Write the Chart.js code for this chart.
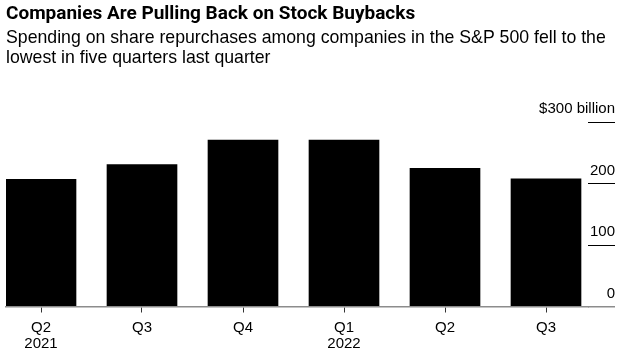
<!DOCTYPE html>
<html>
<head>
<meta charset="utf-8">
<script src="https://cdn.jsdelivr.net/npm/chart.js@4.4.1/dist/chart.umd.min.js"></script>
<style>
html,body{margin:0;padding:0;background:#fff;}
#wrap{width:625px;height:356px;position:relative;}
</style>
</head>
<body>
<div id="wrap"><canvas id="c"></canvas></div>
<script>
const categories = [['Q2','2021'], 'Q3', 'Q4', ['Q1','2022'], 'Q2', 'Q3'];
const buybacks = [207, 231, 271, 271, 225, 208];
const yTicks = [0, 100, 200, 300];
const yTickLabels = ['0', '100', '200', '$300 billion'];

const FONT = "'Liberation Sans', Arial, Helvetica, sans-serif";

new Chart(document.getElementById('c'), {
  type: 'bar',
  data: {
    datasets: [{
      data: buybacks.map((v, i) => ({x: i, y: v})),
      backgroundColor: '#000',
      borderWidth: 0,
      barThickness: 70
    }]
  },
  options: {
    responsive: true,
    maintainAspectRatio: false,
    animation: false,
    layout: {padding: {left: 6, right: 10, top: 0, bottom: -3.5}},
    plugins: {
      legend: {display: false},
      tooltip: {enabled: false},
      title: {
        display: true,
        align: 'start',
        text: 'Companies Are Pulling Back on Stock Buybacks',
        color: '#000',
        font: {family: "Roboto, 'Liberation Sans', Arial, sans-serif", size: 19, weight: 'bold', lineHeight: 1.2},
        padding: {top: 3, bottom: 0}
      },
      subtitle: {
        display: true,
        align: 'start',
        text: ['Spending on share repurchases among companies in the S&P 500 fell to the', 'lowest in five quarters last quarter'],
        color: '#000',
        font: {family: FONT, size: 17.7, weight: 'normal', lineHeight: 1.13},
        padding: {top: 2.5, bottom: 54}
      }
    },
    scales: {
      x: {
        type: 'linear',
        offset: false,
        min: -35 / 101,
        max: -35 / 101 + 582 / 101,
        afterBuildTicks: s => { s.ticks = categories.map((_, i) => ({value: i})); },
        ticks: {
          autoSkip: false,
          maxRotation: 0,
          padding: 7,
          color: '#000',
          font: {family: FONT, size: 15, lineHeight: 1.1},
          callback: v => categories[v]
        },
        grid: {offset: false, drawOnChartArea: false, drawTicks: true, tickLength: 6, color: '#333', lineWidth: 1},
        border: {display: true, color: '#8c8c8c', width: 1.5}
      },
      y: {
        position: 'right',
        min: 0,
        max: 300,
        afterBuildTicks: s => { s.ticks = yTicks.map(v => ({value: v})); },
        afterFit: s => { s.width = 27; },
        ticks: {
          mirror: true,
          crossAlign: 'near',
          labelOffset: -13,
          padding: 27,
          color: '#000',
          font: {family: FONT, size: 15},
          callback: v => yTickLabels[yTicks.indexOf(v)]
        },
        grid: {
          drawOnChartArea: false,
          drawTicks: true,
          tickLength: 27,
          color: ctx => (ctx.tick && ctx.tick.value === 0) ? '#8c8c8c' : '#000',
          lineWidth: ctx => (ctx.tick && ctx.tick.value === 0) ? 1.5 : 1
        },
        border: {display: false}
      }
    }
  }
});
</script>
</body>
</html>
